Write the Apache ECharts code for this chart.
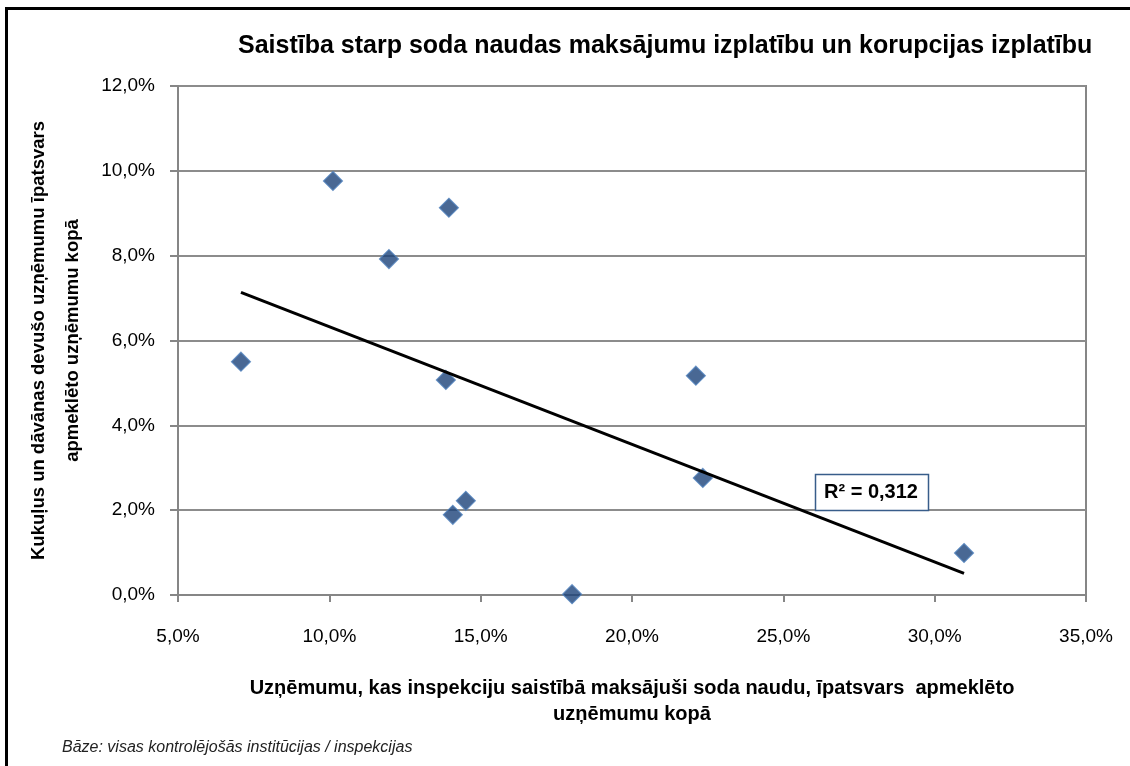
<!DOCTYPE html>
<html>
<head>
<meta charset="utf-8">
<title>Saistība starp soda naudas maksājumu izplatību un korupcijas izplatību</title>
<script src="https://cdn.jsdelivr.net/npm/echarts@6/dist/echarts.min.js"></script>
<style>
  html, body { margin: 0; padding: 0; background: #fff; }
  #main { width: 1130px; height: 766px; }
</style>
</head>
<body>
<div id="main"></div>
<script type="text/javascript">
// dati (procentos)
var sodaNaudas = [7.08, 10.12, 11.97, 13.95, 13.85, 14.08, 14.51, 18.02, 22.11, 22.34, 30.97];
var korupcija  = [5.50, 9.76, 7.92, 9.13, 5.07, 1.89, 2.22, 0.02, 5.17, 2.76, 0.99];
var xTicks = [5, 10, 15, 20, 25, 30, 35];
var yTicks = [0, 2, 4, 6, 8, 10, 12];
var r2Text = 'R² = 0,312';

var font = "'Liberation Sans Narrow', 'Arial Narrow', 'Liberation Sans', Arial, sans-serif";

var points = sodaNaudas.map(function (x, i) { return [x, korupcija[i]]; });

// lineāra tendence (mazāko kvadrātu metode)
var n = points.length, mx = 0, my = 0;
points.forEach(function (p) { mx += p[0]; my += p[1]; });
mx /= n; my /= n;
var sxy = 0, sxx = 0;
points.forEach(function (p) { sxy += (p[0] - mx) * (p[1] - my); sxx += (p[0] - mx) * (p[0] - mx); });
var slope = sxy / sxx, icpt = my - slope * mx;
var xMin = Math.min.apply(null, sodaNaudas), xMax = Math.max.apply(null, sodaNaudas);
var trend = [[xMin, icpt + slope * xMin], [xMax, icpt + slope * xMax]];

function pct(v) { return v.toFixed(1).replace('.', ',') + '%'; }

var chart = echarts.init(document.getElementById('main'));

var option = {
    animation: false,
    title: {
        text: 'Saistība starp soda naudas maksājumu izplatību un korupcijas izplatību',
        left: 233,
        top: 29,
        textStyle: { fontFamily: font, fontSize: 25, fontWeight: 'bold', color: '#000' }
    },
    grid: { left: 178, right: 44, top: 86, bottom: 171 },
    xAxis: {
        type: 'value',
        min: xTicks[0], max: xTicks[xTicks.length - 1], interval: 5,
        name: 'Uzņēmumu, kas inspekciju saistībā maksājuši soda naudu, īpatsvars  apmeklēto\nuzņēmumu kopā',
        nameLocation: 'middle',
        nameGap: 80,
        nameTextStyle: { fontFamily: font, fontSize: 20, fontWeight: 'bold', color: '#000', lineHeight: 26 },
        axisLine: { lineStyle: { color: '#868686', width: 2 } },
        axisTick: { show: true, length: 7, lineStyle: { color: '#868686', width: 2 } },
        axisLabel: { formatter: pct, fontFamily: font, fontSize: 19, color: '#000', margin: 32 },
        splitLine: { show: false }
    },
    yAxis: {
        type: 'value',
        min: yTicks[0], max: yTicks[yTicks.length - 1], interval: 2,
        name: 'Kukuļus un dāvānas devušo uzņēmumu īpatsvars\napmeklēto uzņēmumu kopā',
        nameLocation: 'middle',
        nameGap: 82,
        nameTextStyle: { fontFamily: font, fontSize: 18.5, fontWeight: 'bold', color: '#000', lineHeight: 34 },
        axisLine: { show: true, lineStyle: { color: '#868686', width: 2 } },
        axisTick: { show: true, length: 8, lineStyle: { color: '#868686', width: 2 } },
        axisLabel: { formatter: pct, fontFamily: font, fontSize: 19, color: '#000', margin: 23 },
        splitLine: { show: true, lineStyle: { color: '#8c8c8c', width: 2 } }
    },
    series: [
        {
            type: 'scatter',
            data: points,
            symbol: 'diamond',
            symbolSize: [19, 19],
            itemStyle: { color: '#1b4279', borderColor: '#4f81bd', borderWidth: 1.2 },
            z: 3
        },
        {
            type: 'line',
            data: trend,
            symbol: 'none',
            lineStyle: { color: '#000', width: 3 },
            z: 4
        }
    ],
    graphic: [
        // ārējais rāmis
        { type: 'rect', shape: { x: 6.5, y: 8.5, width: 1200, height: 900 },
          style: { fill: 'none', stroke: '#000', lineWidth: 3 }, silent: true },
        // diagrammas laukuma rāmis (augša un labā puse)
        { type: 'polyline', shape: { points: [[178, 86], [1086, 86], [1086, 595]] },
          style: { fill: 'none', stroke: '#868686', lineWidth: 2 }, silent: true },
        // R² etiķete
        { type: 'rect', shape: { x: 815.5, y: 474.5, width: 113, height: 36 },
          style: { fill: '#fff', stroke: '#385d8a', lineWidth: 1.5 }, z: 10 },
        { type: 'text', x: 871, y: 492, z: 11,
          style: { text: r2Text, fontFamily: font, fontSize: 20, fontWeight: 'bold', fill: '#000',
                   align: 'center', verticalAlign: 'middle' } },
        // avots
        { type: 'text', x: 62, y: 748,
          style: { text: 'Bāze: visas kontrolējošās institūcijas / inspekcijas', fontFamily: font,
                   fontSize: 16, fontStyle: 'italic', fill: '#222', verticalAlign: 'middle' } }
    ]
};

chart.setOption(option);
</script>
</body>
</html>
